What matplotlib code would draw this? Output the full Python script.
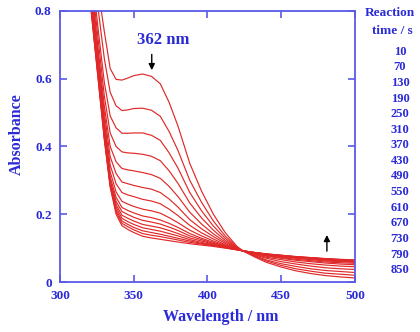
import matplotlib
matplotlib.use("Agg")
import matplotlib.pyplot as plt

# wavelength grid (nm) and spectra, one list per reaction time
wl = [318, 322, 326, 330, 334, 338, 342, 346, 350, 356, 362, 368, 374, 380,
      388, 396, 404, 412, 420, 424, 432, 440, 450, 460, 470, 480, 490, 500]

a10 = [1.12, 0.98, 0.86, 0.74, 0.63, 0.598, 0.596, 0.602, 0.609, 0.614, 0.607, 0.585, 0.530, 0.460,
       0.350, 0.268, 0.200, 0.146, 0.105, 0.092, 0.074, 0.058, 0.044, 0.033, 0.025, 0.019, 0.015, 0.012]
a70 = [1.10, 0.95, 0.80, 0.66, 0.56, 0.52, 0.506, 0.508, 0.512, 0.513, 0.507, 0.489, 0.444, 0.388,
       0.300, 0.235, 0.180, 0.136, 0.103, 0.092, 0.076, 0.062, 0.049, 0.039, 0.032, 0.026, 0.023, 0.020]
a130 = [1.06, 0.90, 0.74, 0.59, 0.49, 0.455, 0.439, 0.439, 0.440, 0.440, 0.433, 0.418, 0.381, 0.336,
        0.264, 0.210, 0.165, 0.129, 0.101, 0.092, 0.078, 0.065, 0.054, 0.046, 0.039, 0.034, 0.031, 0.028]
a190 = [1.04, 0.87, 0.71, 0.55, 0.44, 0.40, 0.384, 0.381, 0.380, 0.377, 0.371, 0.358, 0.328, 0.291,
        0.233, 0.189, 0.153, 0.123, 0.100, 0.092, 0.080, 0.070, 0.060, 0.053, 0.047, 0.042, 0.039, 0.037]
a250 = [1.02, 0.85, 0.68, 0.52, 0.40, 0.355, 0.335, 0.331, 0.328, 0.323, 0.317, 0.306, 0.282, 0.252,
        0.206, 0.171, 0.142, 0.118, 0.099, 0.092, 0.082, 0.073, 0.066, 0.059, 0.054, 0.050, 0.047, 0.045]
a310 = [1.00, 0.83, 0.66, 0.50, 0.37, 0.32, 0.295, 0.290, 0.285, 0.279, 0.274, 0.264, 0.245, 0.221,
        0.184, 0.157, 0.134, 0.114, 0.098, 0.092, 0.084, 0.076, 0.070, 0.064, 0.060, 0.056, 0.053, 0.051]
a370 = [0.98, 0.81, 0.645, 0.48, 0.345, 0.29, 0.264, 0.257, 0.252, 0.244, 0.239, 0.231, 0.215, 0.196,
        0.167, 0.145, 0.127, 0.110, 0.097, 0.092, 0.085, 0.078, 0.072, 0.067, 0.063, 0.059, 0.057, 0.055]
a430 = [0.97, 0.80, 0.63, 0.465, 0.325, 0.266, 0.238, 0.230, 0.223, 0.215, 0.210, 0.203, 0.190, 0.175,
        0.153, 0.136, 0.121, 0.108, 0.097, 0.092, 0.085, 0.080, 0.074, 0.070, 0.066, 0.062, 0.060, 0.058]
a490 = [0.96, 0.79, 0.62, 0.455, 0.31, 0.25, 0.220, 0.211, 0.204, 0.195, 0.190, 0.183, 0.173, 0.161,
        0.143, 0.129, 0.117, 0.106, 0.096, 0.092, 0.086, 0.081, 0.076, 0.071, 0.068, 0.064, 0.062, 0.060]
a550 = [0.955, 0.785, 0.615, 0.45, 0.30, 0.238, 0.208, 0.199, 0.191, 0.182, 0.177, 0.171, 0.162, 0.152,
        0.136, 0.125, 0.114, 0.105, 0.096, 0.092, 0.086, 0.081, 0.077, 0.072, 0.069, 0.066, 0.064, 0.062]
a610 = [0.95, 0.78, 0.61, 0.44, 0.295, 0.229, 0.197, 0.188, 0.180, 0.170, 0.165, 0.160, 0.152, 0.143,
        0.130, 0.121, 0.112, 0.103, 0.096, 0.092, 0.086, 0.082, 0.078, 0.073, 0.070, 0.067, 0.065, 0.063]
a670 = [0.945, 0.775, 0.605, 0.435, 0.29, 0.221, 0.188, 0.178, 0.170, 0.160, 0.155, 0.150, 0.143, 0.136,
        0.125, 0.117, 0.110, 0.102, 0.096, 0.092, 0.087, 0.082, 0.078, 0.074, 0.071, 0.068, 0.065, 0.063]
a730 = [0.94, 0.77, 0.60, 0.43, 0.287, 0.213, 0.180, 0.170, 0.161, 0.151, 0.146, 0.141, 0.135, 0.129,
        0.121, 0.114, 0.108, 0.102, 0.095, 0.092, 0.087, 0.082, 0.078, 0.074, 0.071, 0.068, 0.066, 0.064]
a790 = [0.935, 0.765, 0.595, 0.425, 0.283, 0.207, 0.173, 0.163, 0.154, 0.143, 0.138, 0.134, 0.129, 0.124,
        0.117, 0.112, 0.107, 0.101, 0.095, 0.092, 0.087, 0.083, 0.079, 0.075, 0.072, 0.069, 0.066, 0.064]
a850 = [0.93, 0.76, 0.59, 0.42, 0.28, 0.20, 0.166, 0.155, 0.146, 0.135, 0.130, 0.126, 0.122, 0.118,
        0.113, 0.109, 0.105, 0.100, 0.095, 0.092, 0.087, 0.083, 0.079, 0.075, 0.072, 0.069, 0.067, 0.065]

times = [10, 70, 130, 190, 250, 310, 370, 430, 490, 550, 610, 670, 730, 790, 850]
spectra = [a10, a70, a130, a190, a250, a310, a370, a430, a490, a550, a610, a670, a730, a790, a850]

blue = "#2a2ad8"
axis_blue = "#5a5ae6"
font = {"family": "Liberation Serif", "weight": "bold", "color": blue}

fig = plt.figure(figsize=(4.2, 3.32), dpi=100)
ax = fig.add_axes([0.143, 0.1506, 0.702, 0.8164])

for s in spectra:
    ax.plot(wl, s, color="#e02828", lw=0.85)

ax.set_xlim(300, 500)
ax.set_ylim(0, 0.8)
ax.set_xticks([300, 350, 400, 450, 500])
ax.set_yticks([0, 0.2, 0.4, 0.6, 0.8])
ax.set_yticklabels(["0", "0.2", "0.4", "0.6", "0.8"])
ax.tick_params(direction="in", top=True, right=True, length=5, width=1.2,
               color=axis_blue, labelsize=9.5, pad=6)
for lab in ax.get_xticklabels() + ax.get_yticklabels():
    lab.set_fontfamily("Liberation Serif")
    lab.set_fontweight("bold")
    lab.set_color(blue)
for sp in ax.spines.values():
    sp.set_color(axis_blue)
    sp.set_linewidth(1.3)

ax.set_xlabel("Wavelength / nm", fontdict=font, fontsize=11.5)
ax.xaxis.set_label_coords(0.545, -0.1)
ax.set_ylabel("Absorbance", fontdict=font, fontsize=11.5)
ax.yaxis.set_label_coords(-0.118, 0.545)

# peak annotation and arrows
ax.text(369.8, 0.714, "362 nm", fontdict=font, fontsize=12, ha="center", va="center")
ax.annotate("", xy=(362.2, 0.617), xytext=(362.2, 0.68),
            arrowprops=dict(arrowstyle="-|>", color="black", lw=1, mutation_scale=9))
ax.annotate("", xy=(481, 0.147), xytext=(481, 0.083),
            arrowprops=dict(arrowstyle="-|>", color="black", lw=1, mutation_scale=9))

# reaction-time column on the right
fig.text(390 / 420, 1 - 13 / 332, "Reaction", fontdict=font, fontsize=9.5, ha="center", va="center")
fig.text(392 / 420, 1 - 31 / 332, "time / s", fontdict=font, fontsize=9.5, ha="center", va="center")
for i, t in enumerate(times):
    fig.text(400 / 420, 1 - (51.7 + i * 15.6) / 332, str(t), fontdict=font,
             fontsize=9, ha="center", va="center")

fig.savefig("out.png", dpi=100)
